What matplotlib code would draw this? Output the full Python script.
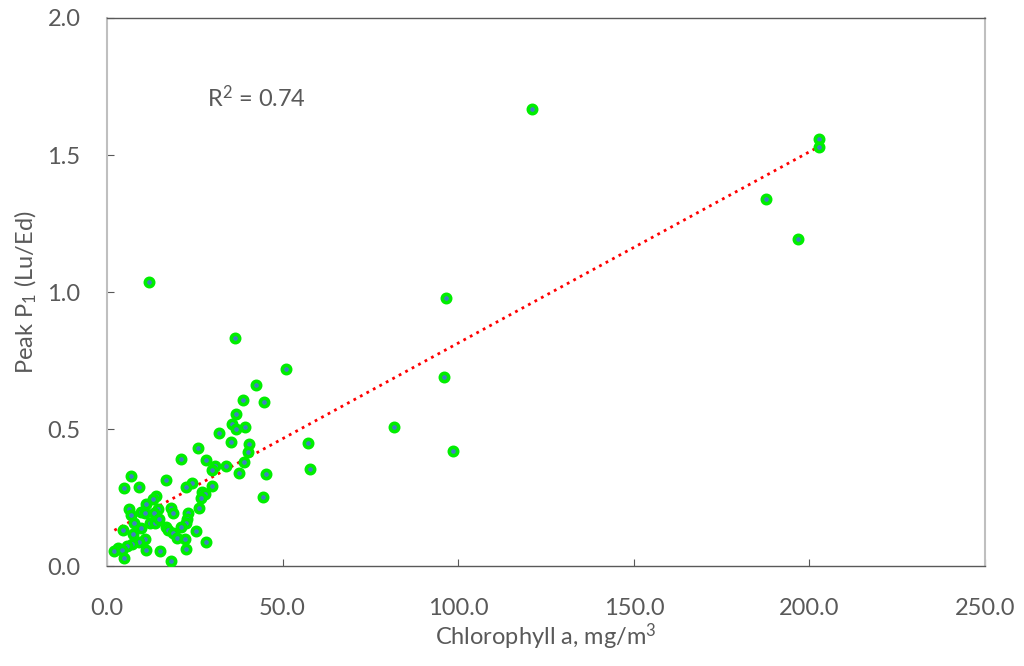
import numpy as np
import matplotlib.pyplot as plt

# Chlorophyll a (mg/m3) and peak P1 (Lu/Ed)
chl = [50.9, 42.3, 44.6, 38.6, 36.6, 35.5, 36.7, 39.4, 31.9, 35.3,
       40.4, 40.2, 38.9, 37.5, 34.0, 30.7, 30.0, 28.3, 25.8, 21.1,
       57.1, 57.8, 45.4, 44.3, 29.8, 27.0, 27.9, 26.9, 26.1, 24.2,
       22.4, 16.9, 6.9, 4.8, 9.1, 13.9, 13.2, 11.0, 14.6, 18.2,
       18.8, 6.3, 6.9, 9.7, 10.8, 13.4, 12.2, 13.7, 14.9, 23.1,
       22.8, 22.4, 21.1, 25.2, 16.8, 17.5, 18.8, 19.8, 22.1, 28.1,
       22.5, 15.2, 18.2, 11.2, 10.9, 9.2, 7.4, 9.8, 7.8, 4.6,
       7.0, 5.6, 3.2, 2.1, 4.2, 4.7,
       96.5, 36.3, 96.0, 81.6, 98.6, 121.0, 11.9,
       202.7, 202.8, 187.6, 196.7]
peak = [0.718, 0.662, 0.598, 0.606, 0.555, 0.517, 0.499, 0.508, 0.484, 0.451,
        0.446, 0.416, 0.381, 0.341, 0.366, 0.365, 0.350, 0.387, 0.432, 0.389,
        0.448, 0.353, 0.336, 0.252, 0.294, 0.270, 0.263, 0.248, 0.212, 0.302,
        0.287, 0.314, 0.328, 0.285, 0.287, 0.257, 0.246, 0.226, 0.207, 0.212,
        0.195, 0.209, 0.187, 0.197, 0.192, 0.192, 0.158, 0.156, 0.173, 0.195,
        0.173, 0.158, 0.141, 0.129, 0.141, 0.131, 0.122, 0.103, 0.099, 0.089,
        0.062, 0.054, 0.018, 0.060, 0.099, 0.089, 0.116, 0.140, 0.156, 0.131,
        0.079, 0.073, 0.067, 0.055, 0.060, 0.030,
        0.978, 0.831, 0.691, 0.506, 0.421, 1.668, 1.036,
        1.558, 1.530, 1.338, 1.193]

x_ticks = [0, 50, 100, 150, 200, 250]
y_ticks = [0.0, 0.5, 1.0, 1.5, 2.0]
r2_label = "R$^2$ = 0.74"

plt.rcParams['font.family'] = ['Lato', 'DejaVu Sans']
plt.rcParams['mathtext.fontset'] = 'custom'
plt.rcParams['mathtext.rm'] = 'Lato'
plt.rcParams['mathtext.it'] = 'Lato:italic'
plt.rcParams['mathtext.default'] = 'regular'
grey = '#595959'
fs = 17

fig = plt.figure(figsize=(10.24, 6.66), dpi=100)
ax = fig.add_axes([0.1045, 0.150, 0.8575, 0.823])

x = np.array(chl)
y = np.array(peak)

# linear trendline over the data range
k, b = np.polyfit(x, y, 1)
xs = np.array([x.min(), x.max()])
ax.plot(xs, k * xs + b, color='red', linestyle=':', linewidth=2, zorder=2)

ax.plot(x, y, 'o', markersize=6, markerfacecolor='#3f7fc4',
        markeredgecolor='#00ee00', markeredgewidth=2.6, zorder=3)

ax.text(28.4, 1.71, r2_label, fontsize=fs, color=grey, va='center')

ax.set_xlim(0, 250)
ax.set_ylim(0, 2.0)
ax.set_xticks(x_ticks)
ax.set_yticks(y_ticks)
ax.set_xticklabels([f"{v:.1f}" for v in x_ticks])
ax.set_yticklabels([f"{v:.1f}" for v in y_ticks])
ax.tick_params(direction='in', length=5, colors=grey, labelsize=fs,
               labelcolor=grey)
ax.tick_params(axis='x', pad=23)
ax.tick_params(axis='y', pad=19)

for side in ['left', 'right']:
    ax.spines[side].set_color('#bfbfbf')
    ax.spines[side].set_linewidth(1.5)
for side in ['top', 'bottom']:
    ax.spines[side].set_color(grey)
    ax.spines[side].set_linewidth(1.0)

ax.set_xlabel("Chlorophyll a, mg/m$^3$", fontsize=fs, color=grey, labelpad=2)
ax.set_ylabel("Peak P$_1$ (Lu/Ed)", fontsize=fs, color=grey, labelpad=6)

fig.savefig('out.png', dpi=100)
